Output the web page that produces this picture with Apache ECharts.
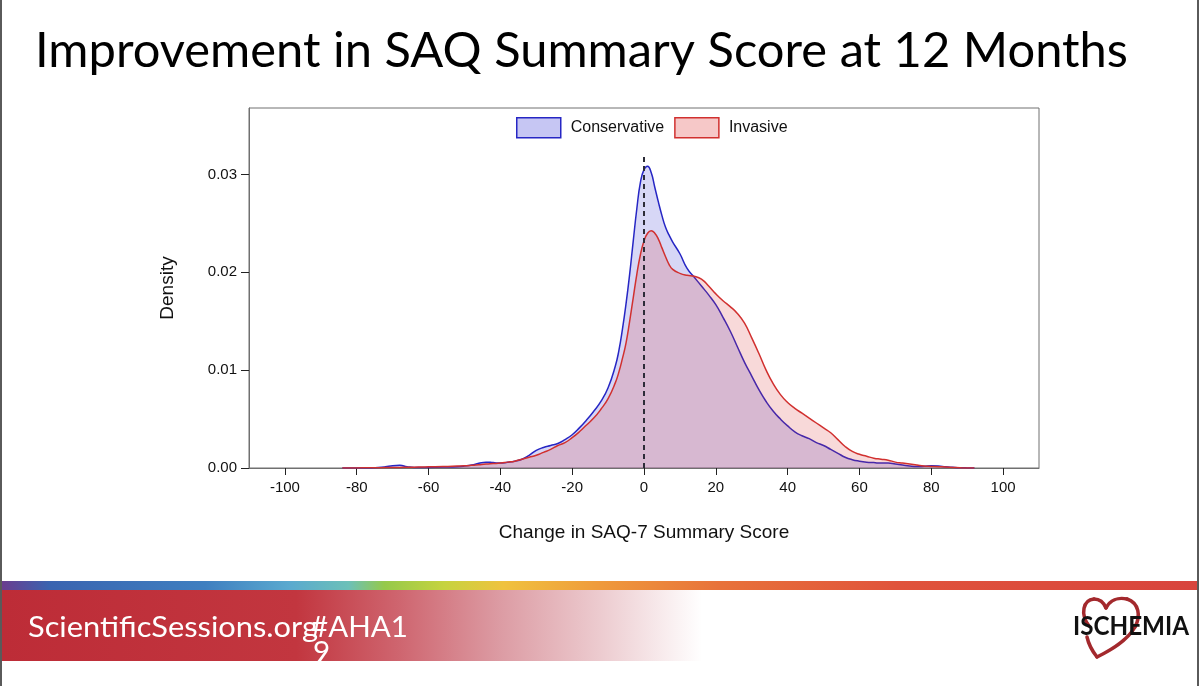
<!DOCTYPE html>
<html>
<head>
<meta charset="utf-8">
<script src="https://cdn.jsdelivr.net/npm/echarts@6/dist/echarts.min.js"></script>
<style>
html,body{margin:0;padding:0;background:#fff;}
#chart{width:1200px;height:686px;}
</style>
</head>
<body>
<div id="chart"></div>
<script>
// ---- data ----
const titleText = 'Improvement in SAQ Summary Score at 12 Months';
const xAxisName = 'Change in SAQ-7 Summary Score';
const yAxisName = 'Density';
const seriesNames = ['Conservative', 'Invasive'];
const xTicks = [-100, -80, -60, -40, -20, 0, 20, 40, 60, 80, 100];
const yTicks = [0, 0.01, 0.02, 0.03];
const xRange = [-110, 110];
const yRange = [0, 0.0368];
const refLineX = 0;
const refLineTop = 0.0318;

const xGrid = [
  -84, -80, -76, -74, -72, -70, -68, -66, -64, -62,
  -60, -56, -52, -50, -48, -46, -44, -42, -40, -38,
  -36, -34, -32, -30, -28, -26, -24, -22, -20, -18,
  -16, -14, -12, -10, -8, -7, -6, -5, -4, -3,
  -2, -1, 0, 1, 2, 3, 4, 5, 6, 7,
  8, 10, 12, 14, 16, 18, 20, 22, 24, 26,
  28, 30, 32, 34, 36, 38, 40, 42, 44, 46,
  48, 50, 52, 54, 56, 58, 60, 62, 64, 66,
  68, 70, 72, 74, 76, 78, 80, 82, 84, 86,
  88, 90, 92
];
const conservative = [
  0, 0, 0.00001, 0.00004, 0.00012, 0.00024, 0.00027, 0.00014, 0.00005, 0.00004,
  0.00006, 0.0001, 0.00014, 0.0002, 0.0003, 0.00048, 0.0006, 0.00055, 0.0005, 0.00058,
  0.0007, 0.0009, 0.0013, 0.0018, 0.0021, 0.0023, 0.0025, 0.0029, 0.0034, 0.0041,
  0.0049, 0.0058, 0.0068, 0.0082, 0.0104, 0.0120, 0.0142, 0.0168, 0.0198, 0.0232,
  0.0265, 0.0292, 0.0305, 0.03085, 0.0302, 0.0287, 0.0272, 0.0258, 0.0246, 0.0238,
  0.0231, 0.0219, 0.0204, 0.0195, 0.0186, 0.0177, 0.0167, 0.0154, 0.0140, 0.0124,
  0.0108, 0.0094, 0.0080, 0.0068, 0.0058, 0.0050, 0.0043, 0.0037, 0.0033, 0.0030,
  0.0026, 0.0023, 0.0019, 0.0015, 0.0011, 0.00085, 0.0007, 0.0006, 0.00055, 0.0005,
  0.0005, 0.0004, 0.0003, 0.0002, 0.00015, 0.00018, 0.00022, 0.0002, 0.00012, 0.00007,
  0.00003, 0.00001, 0
];
const invasive = [
  0, 0.00001, 0.00002, 0.00003, 0.00004, 0.00005, 0.00006, 0.00007, 0.00008, 0.0001,
  0.00012, 0.00015, 0.0002, 0.00023, 0.00028, 0.00034, 0.0004, 0.00045, 0.0005, 0.0006,
  0.0007, 0.0009, 0.0011, 0.0013, 0.0016, 0.0019, 0.0023, 0.0026, 0.0031, 0.0037,
  0.0044, 0.0051, 0.0060, 0.0071, 0.0087, 0.0098, 0.0112, 0.0128, 0.0150, 0.0174,
  0.0198, 0.0218, 0.0232, 0.0240, 0.02425, 0.0240, 0.0234, 0.0225, 0.0216, 0.0208,
  0.0203, 0.0199, 0.0197, 0.0196, 0.0193, 0.0186, 0.0178, 0.0171, 0.0165, 0.0158,
  0.0148, 0.0133, 0.0117, 0.0100, 0.0086, 0.0075, 0.0067, 0.0061, 0.0056, 0.0051,
  0.0046, 0.0041, 0.0036, 0.0029, 0.0022, 0.0017, 0.0014, 0.0012, 0.0010, 0.0009,
  0.0008, 0.0006, 0.0005, 0.0004, 0.0003, 0.0002, 0.00016, 0.00014, 0.0001, 0.00006,
  0.00002, 0, 0
];
const footerSite = 'ScientificSessions.org';
const footerTag = '#AHA1';
const footerTagWrap = '9';
const logoText = 'ISCHEMIA';

// ---- helpers ----
const measureCtx = document.createElement('canvas').getContext('2d');
function fitScale(text, font, target) {
  measureCtx.font = font;
  return target / measureCtx.measureText(text).width;
}

const blueLine = '#2626c4';
const blueFill = 'rgba(66,66,214,0.30)';
const redLine = '#d1302f';
const redFill = 'rgba(220,52,52,0.27)';

const titleFont = '48px Lato';
const footFont = '29px Lato';
const logoFont = 'bold 26px Lato';
const tagScale = fitScale(footerTag, footFont, 97);

// heart outline as bezier segments [x1,y1,cpx1,cpy1,cpx2,cpy2,x2,y2]
const heartSegs = [
  [1089, 626, 1080, 614, 1083, 600, 1094, 599],
  [1094, 599, 1100, 599, 1104, 603, 1106, 608],
  [1106, 608, 1110, 600, 1118, 597, 1127, 599],
  [1127, 599, 1139, 603, 1141, 616, 1135, 627],
  [1135, 627, 1127, 641, 1111, 650, 1097, 657],
  [1087, 637, 1089, 646, 1093, 652, 1097, 657]
];
const heartGraphics = heartSegs.map(s => ({
  type: 'bezierCurve', silent: true,
  shape: {x1: s[0], y1: s[1], cpx1: s[2], cpy1: s[3], cpx2: s[4], cpy2: s[5], x2: s[6], y2: s[7]},
  style: {stroke: '#a3292d', lineWidth: 3.5, fill: null, lineCap: 'round'}
}));

const chart = echarts.init(document.getElementById('chart'), null, {renderer: 'canvas'});

const labelFont = 'Liberation Sans, Arial, sans-serif';
const option = {
  animation: false,
  backgroundColor: '#ffffff',
  grid: {left: 249, right: 161, top: 108, bottom: 218, show: true, borderColor: '#707070', borderWidth: 1, containLabel: false},
  legend: {
    left: 516, top: 117, padding: 0,
    icon: 'rect', itemWidth: 44, itemHeight: 20, itemGap: 10,
    textStyle: {fontFamily: labelFont, fontSize: 16, color: '#111', padding: [0, 0, 0, 5]},
    data: [
      {name: seriesNames[0], itemStyle: {color: blueFill, borderColor: blueLine, borderWidth: 1.5}},
      {name: seriesNames[1], itemStyle: {color: redFill, borderColor: redLine, borderWidth: 1.5}}
    ]
  },
  xAxis: {
    type: 'value', min: xRange[0], max: xRange[1],
    name: xAxisName, nameLocation: 'middle', nameGap: 55,
    nameTextStyle: {fontFamily: labelFont, fontSize: 19, color: '#111'},
    axisLine: {show: true, onZero: false, lineStyle: {color: '#707070', width: 1}},
    axisTick: {show: true, length: 7, lineStyle: {color: '#222'}, customValues: xTicks},
    axisLabel: {customValues: xTicks, margin: 12, fontFamily: labelFont, fontSize: 15, color: '#111'},
    splitLine: {show: false}
  },
  yAxis: {
    type: 'value', min: yRange[0], max: yRange[1],
    name: yAxisName, nameLocation: 'middle', nameGap: 72, nameRotate: 90,
    nameTextStyle: {fontFamily: labelFont, fontSize: 19, color: '#111'},
    axisLine: {show: true, onZero: false, lineStyle: {color: '#707070', width: 1}},
    axisTick: {show: true, length: 8, lineStyle: {color: '#222'}, customValues: yTicks},
    axisLabel: {customValues: yTicks, margin: 12, fontFamily: labelFont, fontSize: 15, color: '#111',
      formatter: v => v.toFixed(2)},
    splitLine: {show: false}
  },
  series: [
    {
      name: seriesNames[0], type: 'line', z: 2,
      data: xGrid.map((x, i) => [x, conservative[i]]),
      showSymbol: false, smooth: 0.5,
      lineStyle: {color: blueLine, width: 1.5},
      itemStyle: {color: blueFill, borderColor: blueLine},
      areaStyle: {color: blueFill}
    },
    {
      name: seriesNames[1], type: 'line', z: 3,
      data: xGrid.map((x, i) => [x, invasive[i]]),
      showSymbol: false, smooth: 0.5,
      lineStyle: {color: redLine, width: 1.5},
      itemStyle: {color: redFill, borderColor: redLine},
      areaStyle: {color: redFill},
      markLine: {
        silent: true, symbol: 'none', z: 5,
        label: {show: false},
        lineStyle: {color: '#2c2c38', type: [5, 4], width: 2},
        data: [[{coord: [refLineX, 0]}, {coord: [refLineX, refLineTop]}]]
      }
    }
  ],
  graphic: [
    // slide borders
    {type: 'rect', x: 0, y: 0, shape: {width: 2, height: 686}, style: {fill: '#5a5a5a'}, silent: true},
    {type: 'rect', x: 1197, y: 0, shape: {width: 2, height: 686}, style: {fill: '#5a5a5a'}, silent: true},
    // title
    {type: 'text', x: 35, y: 52, scaleX: fitScale(titleText, titleFont, 1093),
      style: {text: titleText, font: titleFont, fill: '#000', verticalAlign: 'middle'}},
    // rainbow strip
    {type: 'rect', x: 2, y: 581, shape: {width: 1195, height: 9},
      style: {fill: new echarts.graphic.LinearGradient(0, 0, 1, 0, [
        {offset: 0, color: '#6a3d8f'}, {offset: 0.04, color: '#3a64b0'}, {offset: 0.17, color: '#3f7fc0'},
        {offset: 0.24, color: '#5aa9cf'}, {offset: 0.29, color: '#6cc0b8'}, {offset: 0.32, color: '#95c94a'},
        {offset: 0.37, color: '#c6d33f'}, {offset: 0.42, color: '#f0c23e'}, {offset: 0.5, color: '#ef9a3c'},
        {offset: 0.6, color: '#e8723a'}, {offset: 0.75, color: '#e0533b'}, {offset: 1, color: '#d8443d'}])}},
    // red band
    {type: 'rect', x: 2, y: 590, shape: {width: 700, height: 71},
      style: {fill: new echarts.graphic.LinearGradient(0, 0, 1, 0, [
        {offset: 0, color: '#bd2c37'}, {offset: 0.42, color: '#c2363f'}, {offset: 0.57, color: '#cf6670'},
        {offset: 0.71, color: '#dc9ba3'}, {offset: 0.86, color: '#edcdd1'}, {offset: 1, color: '#ffffff'}])}},
    // footer text
    {type: 'text', x: 28, y: 628, scaleX: fitScale(footerSite, footFont, 290),
      style: {text: footerSite, font: footFont, fill: '#fff', verticalAlign: 'middle'}},
    {type: 'text', x: 311, y: 628, scaleX: tagScale,
      style: {text: footerTag, font: footFont, fill: '#fff', verticalAlign: 'middle'}},
    {type: 'text', x: 313, y: 653, scaleX: tagScale,
      style: {text: footerTagWrap, font: footFont, fill: '#fff', verticalAlign: 'middle'}}
  ].concat(heartGraphics).concat([
    {type: 'text', x: 1073, y: 627, scaleX: fitScale(logoText, logoFont, 116),
      style: {text: logoText, font: logoFont, fill: '#111', verticalAlign: 'middle'}}
  ])
};
chart.setOption(option);
</script>
</body>
</html>
